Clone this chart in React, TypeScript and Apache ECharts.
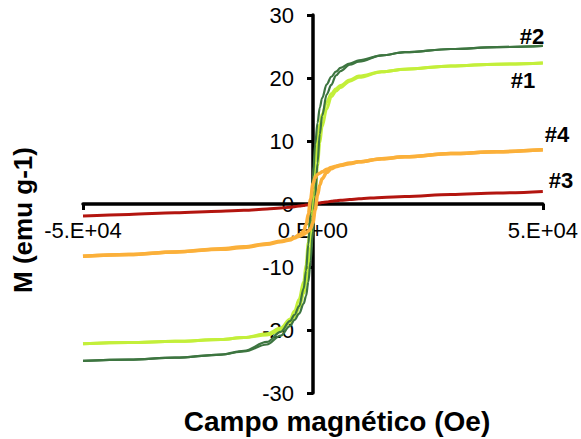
import React, { useEffect, useRef } from "react";
import * as echarts from "echarts";

// Magnetic field (Oe) sampling grid shared by all branches
const fieldOe = [
  -50000, -40000, -30000, -20000, -15000, -10000, -7000, -5000, -4000, -3000,
  -2000, -1500, -1000, -500, 0, 500, 1000, 1500, 2000, 3000,
  4000, 5000, 6000, 8000, 10000, 15000, 20000, 30000, 40000, 50000,
];

// #1 (light green): descending and ascending branches, M in emu/g
const s1Down = [
  -22.2, -22.0, -21.8, -21.5, -21.2, -20.6, -19.7, -18.3, -17.0, -15.1,
  -12.3, -9.7, -6.1, -1.8, 2.7, 6.9, 10.3, 12.7, 14.2, 16.2,
  17.5, 18.3, 18.8, 19.7, 20.3, 21.0, 21.4, 21.9, 22.2, 22.4,
];
const s1Up = [
  -22.2, -22.0, -21.8, -21.5, -21.2, -20.8, -20.1, -18.8, -17.9, -16.5,
  -14.2, -12.7, -10.3, -6.9, -2.7, 1.8, 6.1, 9.7, 12.3, 15.1,
  17.0, 17.9, 18.5, 19.5, 20.1, 21.0, 21.4, 21.9, 22.2, 22.4,
];

// #2 (dark green)
const s2Down = [
  -24.9, -24.7, -24.4, -23.9, -23.3, -21.9, -20.3, -18.6, -17.6, -16.2,
  -13.4, -10.6, -6.4, -1.1, 4.4, 9.5, 12.9, 15.3, 16.8, 19.0,
  20.2, 21.0, 21.6, 22.3, 22.8, 23.6, 24.1, 24.6, 24.9, 25.1,
];
const s2Up = [
  -24.9, -24.7, -24.4, -23.9, -23.4, -22.3, -20.9, -19.4, -18.4, -17.4,
  -15.8, -14.6, -12.4, -9.1, -4.4, 1.1, 6.5, 11.1, 14.0, 17.4,
  18.9, 20.4, 21.1, 22.1, 22.6, 23.6, 24.1, 24.6, 24.9, 25.1,
];

// #3 (dark red)
const s3 = [
  -1.9, -1.65, -1.4, -1.15, -1.0, -0.8, -0.65, -0.5, -0.42, -0.33,
  -0.22, -0.17, -0.12, -0.06, 0.0, 0.06, 0.12, 0.17, 0.22, 0.33,
  0.42, 0.5, 0.58, 0.72, 0.82, 1.05, 1.2, 1.5, 1.75, 2.0,
];

// #4 (orange)
const s4Down = [
  -8.3, -8.0, -7.6, -7.1, -6.8, -6.3, -5.9, -5.6, -5.3, -4.9,
  -4.3, -3.3, -1.6, 0.8, 3.2, 4.2, 4.7, 4.9, 5.1, 5.5,
  5.8, 6.0, 6.2, 6.5, 6.7, 7.2, 7.5, 8.0, 8.3, 8.6,
];
const s4Up = [
  -8.3, -8.0, -7.6, -7.2, -6.9, -6.4, -6.0, -5.7, -5.4, -5.1,
  -4.8, -4.6, -4.3, -3.9, -3.0, -0.9, 1.4, 3.0, 4.0, 5.0,
  5.6, 5.9, 6.1, 6.4, 6.7, 7.2, 7.5, 8.0, 8.3, 8.6,
];

const xTickValues = [-50000, 0, 50000];
const xTickLabels = ["-5.E+04", "0.E+00", "5.E+04"];

const sampleNames = ["#1", "#2", "#3", "#4"];
const sampleColors = ["#c3ef3a", "#3d7540", "#b3150f", "#fbb03a"];

const FONT = "'Liberation Sans', Arial, sans-serif";

function pairs(arr: number[]) {
  return fieldOe.map((h, i) => [h, arr[i]]);
}

export default function App() {
  const ref = useRef<HTMLDivElement>(null);

  useEffect(() => {
    if (!ref.current) return;
    const chart = echarts.init(ref.current, undefined, { renderer: "svg" });

    const line = (name: string, data: number[], color: string, width: number) => ({
      name,
      type: "line",
      data: pairs(data),
      symbol: "none",
      smooth: 0.35,
      smoothMonotone: "x",
      silent: true,
      lineStyle: { color, width },
      z: 3,
    });

    const gridLeft = 83;
    const gridRight = 38;
    const gridTop = 15;
    const gridBottom = 46;
    const plotW = 581 - gridLeft - gridRight;
    const plotH = 439 - gridTop - gridBottom;

    const labelStyle = { fontSize: 22, fontWeight: "bold", fontFamily: FONT, fill: "#000", textAlign: "center", textVerticalAlign: "middle" };

    chart.setOption({
      animation: false,
      backgroundColor: "#ffffff",
      grid: { left: gridLeft, right: gridRight, top: gridTop, bottom: gridBottom, containLabel: false },
      xAxis: {
        type: "value",
        min: -50000,
        max: 50000,
        interval: 50000,
        position: "bottom",
        offset: -plotH / 2,
        splitLine: { show: false },
        axisLine: { show: true, onZero: false, lineStyle: { color: "#000", width: 3.5 } },
        axisTick: { show: true, inside: false, length: 6, lineStyle: { color: "#000", width: 3 } },
        axisLabel: {
          color: "#000",
          fontSize: 22,
          fontFamily: FONT,
          margin: 15,
          showMinLabel: true,
          showMaxLabel: true,
          formatter: (v: number) => {
            const i = xTickValues.indexOf(v);
            return i >= 0 ? xTickLabels[i] : "";
          },
        },
        z: 1,
      },
      yAxis: {
        type: "value",
        min: -30,
        max: 30,
        interval: 10,
        position: "left",
        offset: -plotW / 2,
        splitLine: { show: false },
        axisLine: { show: true, onZero: false, lineStyle: { color: "#000", width: 3.5 } },
        axisTick: { show: true, inside: false, length: 6, lineStyle: { color: "#000", width: 3 } },
        axisLabel: { color: "#000", fontSize: 22, fontFamily: FONT, margin: 19 },
        z: 1,
      },
      series: [
        line("#3", s3, sampleColors[2], 3),
        line("#1 down", s1Down, sampleColors[0], 3),
        line("#1 up", s1Up, sampleColors[0], 3),
        line("#2 down", s2Down, sampleColors[1], 2.2),
        line("#2 up", s2Up, sampleColors[1], 2.2),
        line("#4 down", s4Down, sampleColors[3], 3.5),
        line("#4 up", s4Up, sampleColors[3], 3.5),
      ],
      graphic: [
        {
          type: "text",
          x: 337,
          y: 421,
          style: {
            text: "Campo magnético (Oe)",
            fontSize: 28,
            fontWeight: "bold",
            fontFamily: FONT,
            fill: "#000",
            textAlign: "center",
            textVerticalAlign: "middle",
          },
        },
        {
          type: "text",
          x: 23,
          y: 220,
          rotation: Math.PI / 2,
          style: {
            text: "M (emu g-1)",
            fontSize: 26,
            fontWeight: "bold",
            fontFamily: FONT,
            fill: "#000",
            textAlign: "center",
            textVerticalAlign: "middle",
          },
        },
        { type: "text", x: 532, y: 36, style: { ...labelStyle, text: sampleNames[1] } },
        { type: "text", x: 523, y: 80, style: { ...labelStyle, text: sampleNames[0] } },
        { type: "text", x: 557, y: 134, style: { ...labelStyle, text: sampleNames[3] } },
        { type: "text", x: 561, y: 180, style: { ...labelStyle, text: sampleNames[2] } },
      ],
    });

    return () => chart.dispose();
  }, []);

  return <div ref={ref} style={{ width: 581, height: 439, position: "absolute", left: 0, top: 0 }} />;
}
